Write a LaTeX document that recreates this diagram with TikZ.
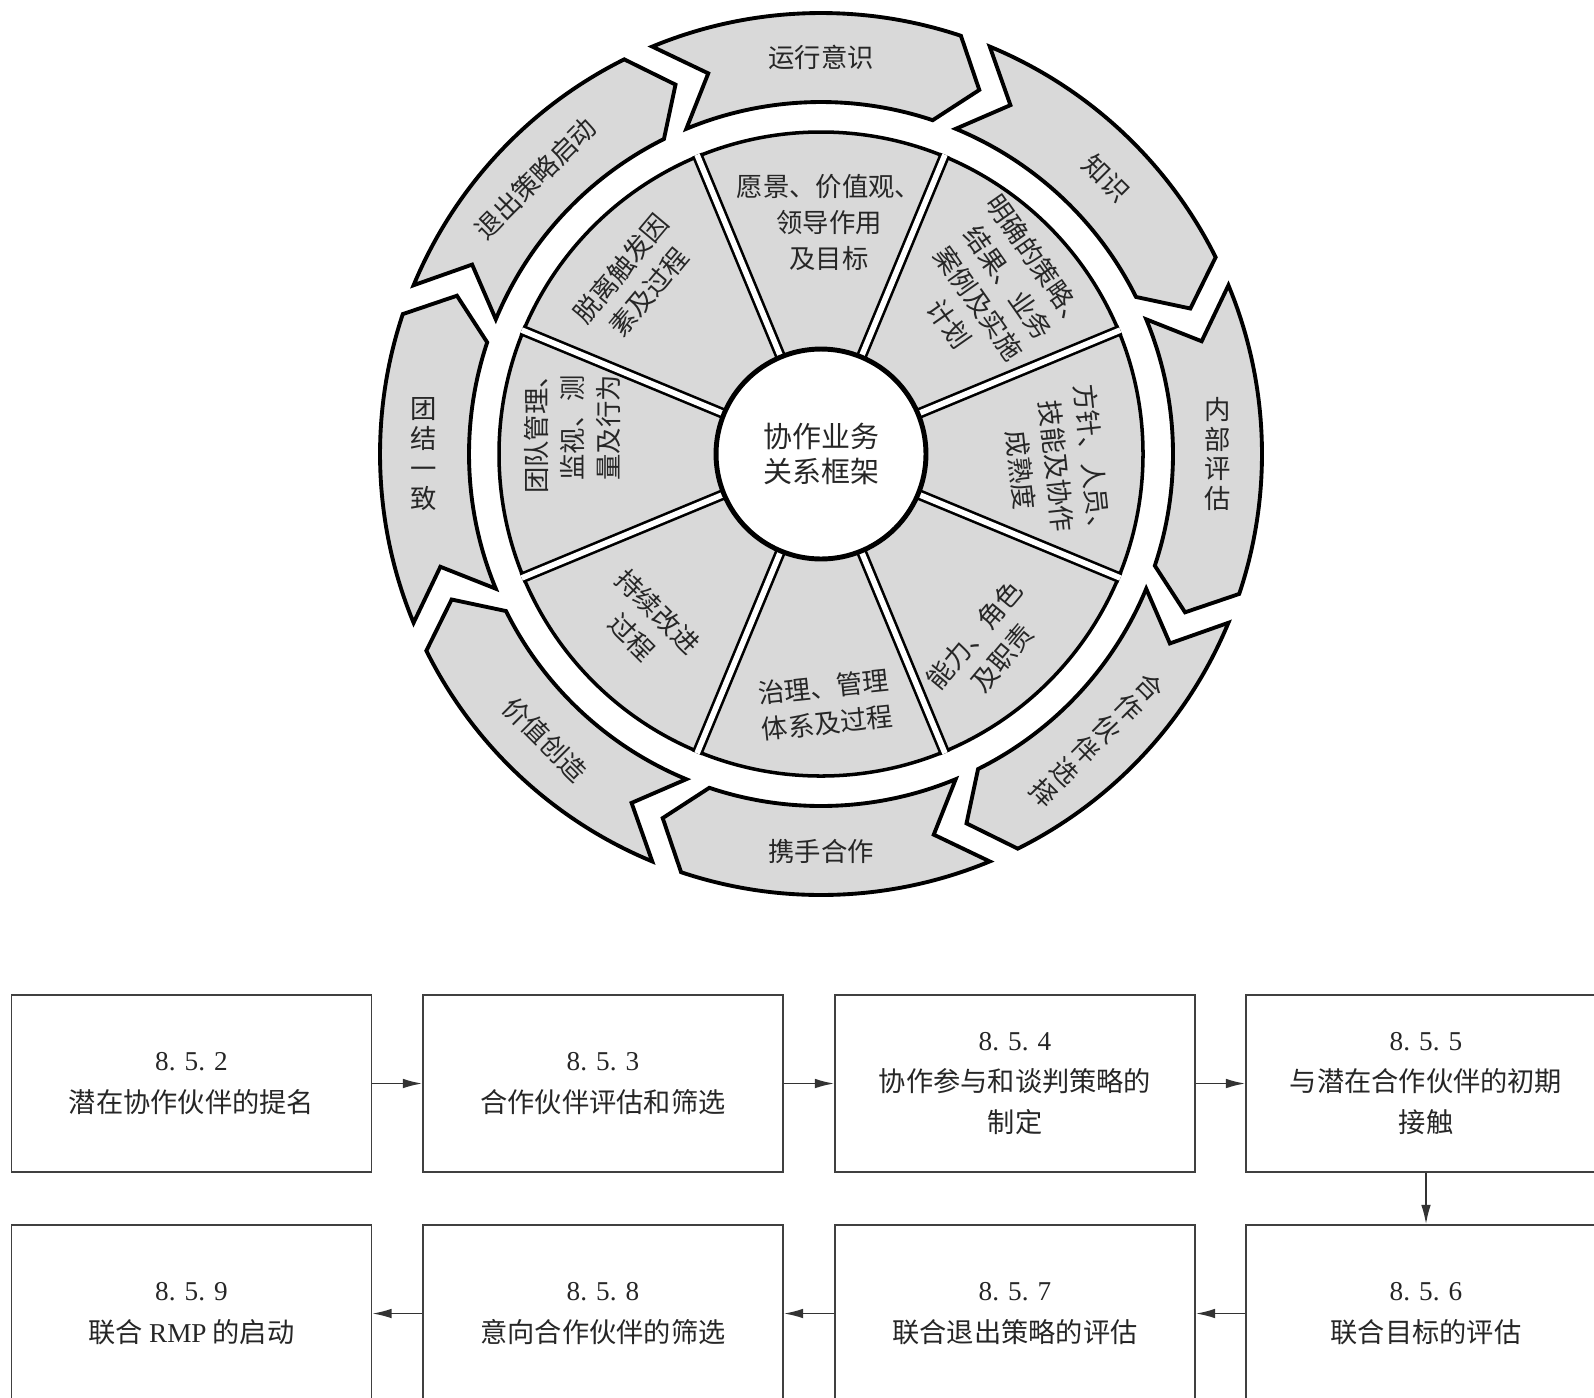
\documentclass[tikz,border=0pt]{standalone}
\usepackage{fontspec}
\setmainfont{Liberation Serif}
\newfontfamily\cjk{Noto Sans CJK SC}
\usetikzlibrary{arrows.meta}

\tikzset{
  ringarrow/.style={fill=black!15, draw=black, line width=2.2pt, line join=miter},
  ringtext/.style={align=center, inner sep=0pt, text=black!85, font=\cjk\fontsize{15}{17}\selectfont},
  sector/.style={fill=black!15, draw=black, line width=2pt},
  spoke/.style={draw=black, line width=1.5pt, double=white, double distance=3.2pt},
  sectortext/.style={align=center, inner sep=0pt, text=black!85, font=\cjk\fontsize{15}{20.5}\selectfont},
  hub/.style={circle, fill=white, draw=black, line width=2.8pt, minimum size=4.2cm, align=center, text=black!85, font=\cjk\fontsize{16.5}{20}\selectfont},
  stepbox/.style={draw=black!75, line width=1pt, minimum width=7.2cm, minimum height=3.54cm, align=center, text=black!85, font=\cjk\fontsize{15.5}{23.5}\selectfont},
  flow/.style={draw=black!80, line width=0.9pt, -{Latex[length=11pt,width=5.5pt]}},
}

\begin{document}
\begin{tikzpicture}[x=0.02cm, y=0.02cm]
  \useasboundingbox (0,0) rectangle (1594,-1397);
  \clip (0,0) rectangle (1594,-1397);

  % wheel
  \begin{scope}[shift={(821,-454)}]
    \foreach \c in {0,45,...,315}
      \draw[ringarrow] ({\c+22.5}:441) arc[start angle=\c+22.5, end angle=\c-18.5, radius=441]
        -- ({\c-23.5}:397) -- ({\c-18.5}:352)
        arc[start angle=\c-18.5, end angle=\c+22.5, radius=352]
        -- ({\c+16.5}:397) -- cycle;
    \draw[sector] (0,0) circle[radius=322];
    \foreach \a in {22.5,67.5,...,337.5}
      \draw[spoke] (\a:100) -- (\a:324);
    \node[hub] (hub) at (0,0) {协作业务\\关系框架};

    % inner sectors
    \node[sectortext] (s90) at (88:232) {愿景、价值观、\\领导作用\\及目标};
    \node[sectortext, rotate=-55] (s45) at (43:236) {明确的策略、\\结果、业务\\案例及实施\\计划};
    \node[sectortext, rotate=-84] (s0) at (-3:236) {方针、人员、\\技能及协作\\成熟度};
    \node[sectortext, rotate=50] (s315) at (-49:255) {能力、角色\\及职责};
    \node[sectortext, rotate=6] (s270) at (-89:251) {治理、管理\\体系及过程};
    \node[sectortext, rotate=-45] (s225) at (-136:245) {持续改进\\过程};
    \node[sectortext, rotate=90] (s180) at (174:250) {团队管理、\\监视、测\\量及行为};
    \node[sectortext, rotate=50] (s135) at (137:255) {脱离触发因\\素及过程};

    % outer ring
    \node[ringtext] (r90) at (90:397) {运行意识};
    \node[ringtext, rotate=-45] (r45) at (44:397) {知识};
    \node[ringtext] (r0) at (0:397) {内\\部\\评\\估};
    \node[ringtext, rotate=-45] (r315) at (-46:397) {合\\作\\伙\\伴\\选\\择};
    \node[ringtext] (r270) at (-90:397) {携手合作};
    \node[ringtext, rotate=-45] (r225) at (-134:397) {价值创造};
    \node[ringtext] (r180) at (180:397) {团\\结\\一\\致};
    \node[ringtext, rotate=45] (r135) at (136:397) {退出策略启动};
  \end{scope}

  % steps
  \node[stepbox] (box852) at (191.5,-1083.5) {{\rmfamily 8. 5. 2}\\潜在协作伙伴的提名};
  \node[stepbox] (box853) at (603,-1083.5) {{\rmfamily 8. 5. 3}\\合作伙伴评估和筛选};
  \node[stepbox] (box854) at (1015,-1083.5) {{\rmfamily 8. 5. 4}\\协作参与和谈判策略的\\制定};
  \node[stepbox] (box855) at (1426,-1083.5) {{\rmfamily 8. 5. 5}\\与潜在合作伙伴的初期\\接触};
  \node[stepbox] (box856) at (1426,-1313.5) {{\rmfamily 8. 5. 6}\\联合目标的评估};
  \node[stepbox] (box857) at (1015,-1313.5) {{\rmfamily 8. 5. 7}\\联合退出策略的评估};
  \node[stepbox] (box858) at (603,-1313.5) {{\rmfamily 8. 5. 8}\\意向合作伙伴的筛选};
  \node[stepbox] (box859) at (191.5,-1313.5) {{\rmfamily 8. 5. 9}\\联合 {\rmfamily RMP} 的启动};

  \draw[flow] (box852) -- (box853);
  \draw[flow] (box853) -- (box854);
  \draw[flow] (box854) -- (box855);
  \draw[flow] (box855) -- (box856);
  \draw[flow] (box856) -- (box857);
  \draw[flow] (box857) -- (box858);
  \draw[flow] (box858) -- (box859);
\end{tikzpicture}
\end{document}
